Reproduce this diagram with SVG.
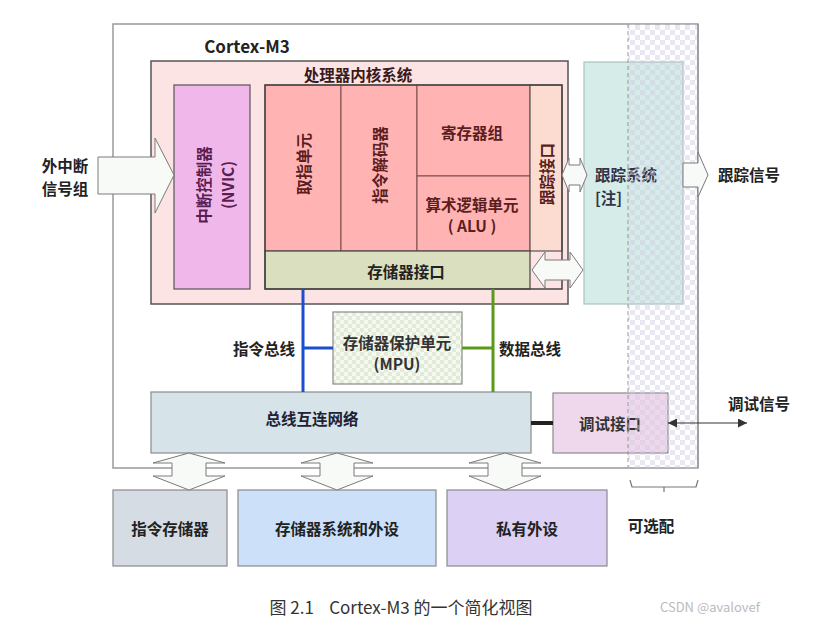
<svg xmlns="http://www.w3.org/2000/svg" width="819" height="625" viewBox="0 0 819 625">
<style>
text{font-family:"Noto Sans CJK SC","Noto Sans",sans-serif;font-size:15.5px;font-weight:bold;fill:#222;text-anchor:middle;dominant-baseline:central}
.red{fill:#ffb3b3;stroke:#7a4a4a;stroke-width:1}
.dk{fill:#5a1e1e}
.blk{fill:#f8faf8;stroke:#7a7a7a;stroke-width:1}
.box{stroke:#8a8a8a;stroke-width:1.2}
</style>
<defs>
<pattern id="chk" width="10" height="10" patternUnits="userSpaceOnUse"><rect width="5" height="5" fill="#cfcae3"/><rect x="5" y="5" width="5" height="5" fill="#cfcae3"/></pattern>
<pattern id="gchk" width="8" height="8" patternUnits="userSpaceOnUse"><rect width="8" height="8" fill="#f6f9f2"/><rect width="4" height="4" fill="#e2ebd8"/><rect x="4" y="4" width="4" height="4" fill="#e2ebd8"/></pattern>
<marker id="ah" viewBox="0 0 10 10" refX="10" refY="5" markerWidth="9" markerHeight="9" markerUnits="userSpaceOnUse" orient="auto-start-reverse"><path d="M0,0 L10,5 L0,10 z" fill="#333"/></marker>
</defs>
<rect width="819" height="625" fill="#fff"/>

<g id="cortex-m3">
<rect x="113" y="24" width="585" height="444" fill="#fff" stroke="#999" stroke-width="1.5"/>
<text x="247" y="45" style="font-size:17px">Cortex-M3</text>
</g>

<g id="core-system">
<rect x="151" y="61" width="417" height="243" fill="#fde4e4" stroke="#555" stroke-width="1.5"/>
<text x="358" y="74" class="dk" style="fill:#3a1a1a">处理器内核系统</text>
</g>

<g id="nvic">
<rect x="174" y="85" width="76" height="204" fill="#f0b8ea" stroke="#555" stroke-width="1.2"/>
<text transform="translate(203,185) rotate(-90)" style="fill:#5a1e50">中断控制器</text>
<text transform="translate(227,185) rotate(-90)" style="fill:#5a1e50">(NVIC)</text>
</g>

<g id="fetch">
<rect x="265" y="85" width="76" height="166" class="red"/>
<text transform="translate(303,164) rotate(-90)" class="dk">取指单元</text>
</g>
<g id="decoder">
<rect x="341" y="85" width="76" height="166" class="red"/>
<text transform="translate(379,165) rotate(-90)" class="dk">指令解码器</text>
</g>
<g id="regs">
<rect x="417" y="85" width="113" height="91" class="red"/>
<text x="472" y="132" class="dk">寄存器组</text>
</g>
<g id="alu">
<rect x="417" y="176" width="113" height="75" class="red"/>
<text x="472" y="204" class="dk">算术逻辑单元</text>
<text x="472" y="225" class="dk">( ALU )</text>
</g>
<g id="trace-if">
<rect x="530" y="85" width="32" height="166" fill="#fcdcd0" stroke="#555" stroke-width="1.2"/>
<text transform="translate(546,174) rotate(-90)" class="dk">跟踪接口</text>
</g>
<g id="mem-if">
<rect x="265" y="251" width="265" height="38" fill="#d9dfbf" stroke="#444" stroke-width="1.2"/>
<text x="406" y="271">存储器接口</text>
</g>
<rect x="265" y="85" width="297" height="204" fill="none" stroke="#444" stroke-width="1.5"/>

<g id="trace-system">
<rect x="584" y="62" width="99" height="242" fill="#d6ece8" stroke="#a8c4c0" stroke-width="1.2"/>
<text x="595" y="174" style="text-anchor:start;fill:#334">跟踪系统</text>
<text x="595" y="197" style="text-anchor:start;fill:#334">[注]</text>
</g>

<g id="mpu">
<rect x="333" y="312" width="129" height="72" fill="url(#gchk)" stroke="#8a8a8a" stroke-width="1.2"/>
<text x="397" y="342" style="fill:#333">存储器保护单元</text>
<text x="397" y="363" style="fill:#333">(MPU)</text>
</g>

<g id="bus-matrix">
<rect x="151" y="392" width="380" height="61" fill="#d6e4ea" class="box"/>
<text x="312" y="418" style="fill:#223">总线互连网络</text>
</g>

<g id="debug-if">
<rect x="553" y="393" width="115" height="60" fill="#f0d8ec" class="box"/>
<text x="610" y="423" style="fill:#333">调试接口</text>
</g>

<g id="optional">
<rect x="628" y="24" width="70" height="444" fill="url(#chk)" opacity="0.45"/>
<line x1="628" y1="24" x2="628" y2="468" stroke="#999" stroke-width="1" stroke-dasharray="4 3"/>
<line x1="698" y1="24" x2="698" y2="468" stroke="#999" stroke-width="1.5"/>
<path d="M630,480 L632,487 L696,487 L698,480 M664,487 L664,492" fill="none" stroke="#777" stroke-width="1.2"/>
<text x="651" y="525">可选配</text>
</g>

<g id="instr-mem">
<rect x="113" y="490" width="114" height="76" fill="#d6dce4" class="box"/>
<text x="170" y="528">指令存储器</text>
</g>
<g id="mem-periph">
<rect x="238" y="490" width="198" height="76" fill="#cce0fa" class="box"/>
<text x="337" y="528">存储器系统和外设</text>
</g>
<g id="private-periph">
<rect x="447" y="490" width="160" height="76" fill="#dcd0f5" class="box"/>
<text x="527" y="528">私有外设</text>
</g>

<g id="connectors">
<polygon class="blk" points="98,157 155,157 155,138 174,175 155,213 155,194 98,194"/>
<polygon class="blk" points="562,175 569,158 569,165 580,165 580,158 587,175 580,192 580,185 569,185 569,192"/>
<polygon class="blk" points="532,270 545,252 545,260 570,260 570,252 583,270 570,288 570,280 545,280 545,288"/>
<polygon class="blk" points="683,163 698,163 698,152 708,175 698,197 698,187 683,187"/>
<path d="M303,289 V392 M303,348 H333" fill="none" stroke="#1a4fcf" stroke-width="3"/>
<path d="M493,289 V392 M493,348 H462" fill="none" stroke="#5a9a1a" stroke-width="3"/>
<line x1="531" y1="423" x2="553" y2="423" stroke="#222" stroke-width="4"/>
<line x1="668" y1="423" x2="747" y2="423" stroke="#333" stroke-width="1.2" marker-start="url(#ah)" marker-end="url(#ah)"/>
<polygon class="blk" points="189,453 225,463 206,463 206,476 225,476 189,490 153,476 172,476 172,463 153,463"/>
<polygon class="blk" points="337,453 373,463 354,463 354,476 373,476 337,490 301,476 320,476 320,463 301,463"/>
<polygon class="blk" points="505,453 541,463 522,463 522,476 541,476 505,490 469,476 488,476 488,463 469,463"/>
</g>

<g id="labels">
<text x="65" y="165">外中断</text>
<text x="65" y="188">信号组</text>
<text x="749" y="174">跟踪信号</text>
<text x="264" y="348">指令总线</text>
<text x="530" y="348">数据总线</text>
<text x="759" y="403">调试信号</text>
<text x="401" y="606" style="font-weight:normal;font-size:17px;fill:#333" xml:space="preserve">图 2.1    Cortex-M3 的一个简化视图</text>
<text x="710" y="606" style="font-weight:normal;font-size:13px;fill:#bbb">CSDN @avalovef</text>
</g>
</svg>
